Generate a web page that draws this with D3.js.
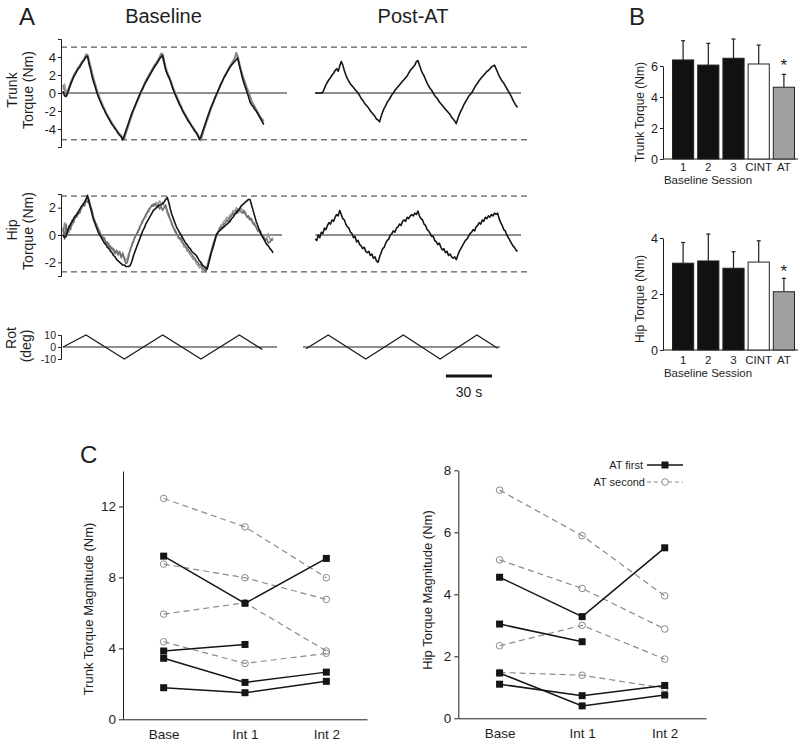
<!DOCTYPE html>
<html><head><meta charset="utf-8">
<script src="https://cdn.jsdelivr.net/npm/d3@7"></script>
<style>body{margin:0;background:#fff}svg{display:block}</style>
</head><body><svg id="c" width="800" height="741"></svg>
<script>
// ---------------- DATA ----------------
// Panel A: torque traces sampled once per second (t = index + start)
const trunkBaseK = [0.2,-0.3,-0.4,0.0,0.5,1.0,1.4,1.8,2.1,2.4,2.7,2.9,3.2,3.5,3.7,4.0,4.1,3.2,2.6,1.8,
1.2,0.7,0.1,-0.4,-0.8,-1.2,-1.6,-1.9,-2.3,-2.6,-2.9,-3.2,-3.5,-3.7,-4.0,-4.2,-4.5,-4.7,-4.9,-5.2,
-4.7,-4.2,-3.7,-3.2,-2.7,-2.2,-1.8,-1.4,-1.0,-0.6,-0.2,0.2,0.5,0.9,1.2,1.5,1.8,2.1,2.4,2.7,
3.0,3.2,3.5,3.8,4.0,4.2,3.4,2.6,2.1,1.8,1.4,0.8,0.3,-0.1,-0.5,-0.9,-1.3,-1.6,-2.0,-2.3,
-2.6,-2.9,-3.2,-3.4,-3.7,-3.9,-4.2,-4.4,-4.7,-5.2,-4.8,-4.3,-3.8,-3.3,-2.8,-2.3,-1.8,-1.4,-1.0,-0.6,
-0.2,0.2,0.6,1.0,1.3,1.7,2.0,2.3,2.6,2.9,3.1,3.3,3.5,3.7,3.9,3.1,2.4,1.7,1.1,0.6,
0.1,-0.4,-1.0,-1.3,-1.5,-1.8,-2.0,-2.3,-2.6,-2.9,-3.2,-3.5];
const trunkBaseG1 = [0.9,0.3,-0.2,0.2,0.7,1.2,1.6,2.0,2.3,2.6,2.9,3.1,3.4,3.6,3.9,4.3,4.2,3.5,2.9,2.1,
1.5,0.9,0.3,-0.2,-0.7,-1.1,-1.5,-1.8,-2.2,-2.5,-2.8,-3.1,-3.4,-3.6,-3.9,-4.1,-4.4,-4.6,-4.8,-5.0,
-5.1,-4.5,-4.0,-3.4,-2.9,-2.4,-1.9,-1.5,-1.0,-0.6,-0.2,0.2,0.6,1.0,1.4,1.7,2.0,2.3,2.6,2.9,
3.2,3.4,3.7,4.0,4.4,3.9,3.2,2.6,2.1,1.7,1.3,0.9,0.4,0.0,-0.4,-0.8,-1.2,-1.5,-1.9,-2.2,
-2.5,-2.8,-3.1,-3.4,-3.7,-4.0,-4.3,-4.5,-4.8,-5.0,-5.2,-4.6,-4.0,-3.5,-3.0,-2.5,-2.0,-1.5,-1.1,-0.6,
-0.2,0.2,0.6,1.0,1.4,1.7,2.0,2.4,2.7,3.0,3.3,3.6,3.9,4.5,4.1,3.4,2.7,2.1,1.6,1.1,
0.6,0.2,-0.3,-0.8,-1.2,-1.5,-1.8,-2.1,-2.4,-2.7,-2.9,-3.1];
const trunkBaseG2 = [0.4,1.0,0.3,-0.2,0.4,0.9,1.4,1.8,2.2,2.5,2.8,3.0,3.3,3.5,3.8,4.1,4.3,3.8,3.0,2.3,
1.7,1.1,0.5,0.0,-0.5,-0.9,-1.3,-1.7,-2.1,-2.4,-2.7,-3.0,-3.3,-3.6,-3.8,-4.1,-4.3,-4.5,-4.7,-4.9,
-5.0,-4.5,-4.0,-3.5,-3.0,-2.5,-2.0,-1.6,-1.2,-0.8,-0.4,0.0,0.4,0.8,1.2,1.5,1.9,2.2,2.5,2.8,
3.1,3.4,3.6,3.9,4.1,4.4,3.7,3.0,2.4,2.0,1.5,1.1,0.6,0.2,-0.2,-0.6,-1.0,-1.4,-1.8,-2.1,
-2.4,-2.7,-3.0,-3.3,-3.6,-3.9,-4.1,-4.4,-4.6,-4.9,-5.3,-4.7,-4.1,-3.6,-3.1,-2.6,-2.1,-1.6,-1.2,-0.7,
-0.3,0.1,0.5,0.9,1.3,1.7,2.0,2.3,2.6,2.9,3.2,3.5,3.8,4.3,3.8,3.1,2.5,1.9,1.4,0.9,
0.4,0.0,-0.5,-0.9,-1.2,-1.5,-1.9,-2.2,-2.5,-2.8,-3.0,-3.2];
const hipBaseK = [0.0,-0.2,-0.1,0.3,0.6,0.8,1.0,1.2,1.4,1.5,1.7,1.9,2.1,2.2,2.4,2.6,2.9,2.4,2.0,1.5,
1.1,0.8,0.5,0.2,0.0,-0.2,-0.4,-0.6,-0.7,-0.9,-1.0,-1.2,-1.3,-1.5,-1.6,-1.8,-1.9,-2.0,-2.1,-2.2,
-2.2,-2.3,-2.3,-2.3,-2.2,-1.9,-1.5,-1.2,-0.9,-0.6,-0.3,0.0,0.3,0.5,0.8,1.0,1.2,1.4,1.6,1.8,
1.9,2.0,2.1,2.2,2.2,2.3,2.4,2.6,2.75,2.4,1.9,1.5,1.2,0.9,0.6,0.4,0.2,0.0,-0.2,-0.4,
-0.6,-0.7,-0.9,-1.0,-1.2,-1.3,-1.4,-1.5,-1.7,-1.9,-2.0,-2.2,-2.3,-2.4,-2.5,-2.1,-1.6,-1.2,-0.8,-0.4,
0.0,0.2,0.3,0.4,0.5,0.6,0.7,0.8,0.9,1.0,1.2,1.3,1.5,1.6,1.8,1.9,2.1,2.2,2.3,2.4,
2.5,2.6,2.6,2.2,1.8,1.4,1.0,0.7,0.4,0.1,-0.1,-0.3,-0.5,-0.7,-0.8,-1.0,-1.1,-1.3];
const hipBaseG1 = [0.5,-0.3,0.8,0.1,0.7,0.4,1.1,0.9,1.4,1.3,1.7,1.6,2.0,2.2,2.1,2.5,2.4,2.6,2.1,1.8,
1.2,1.0,0.6,0.5,0.1,0.0,-0.3,-0.2,-0.6,-0.5,-0.9,-0.8,-1.1,-1.0,-1.3,-1.1,-1.4,-1.2,-1.6,-1.3,
-1.8,-2.1,-2.0,-1.5,-1.0,-0.8,-0.4,-0.2,0.1,0.2,0.6,0.8,1.1,1.2,1.5,1.7,1.9,2.0,2.2,2.1,
2.3,2.1,2.2,1.9,2.1,1.8,2.0,2.2,1.8,1.5,1.1,0.9,0.5,0.4,0.1,0.0,-0.3,-0.2,-0.5,-0.7,
-0.8,-1.0,-1.1,-1.3,-1.4,-1.6,-1.7,-1.9,-2.0,-2.2,-2.1,-2.4,-2.5,-2.7,-2.4,-2.0,-1.7,-1.2,-0.9,-0.5,
-0.1,0.2,0.4,0.6,0.5,0.8,0.9,1.1,1.0,1.3,1.4,1.6,1.5,1.8,1.6,1.9,1.7,1.6,1.8,1.5,
1.3,1.4,1.1,1.2,0.9,0.7,0.6,0.3,0.4,0.1,0.0,-0.2,-0.4,-0.3,-0.6,-0.5,-0.3,-0.4];
const hipBaseG2 = [0.2,0.9,-0.1,0.4,0.2,0.9,0.7,1.3,1.2,1.6,1.5,1.8,1.9,2.3,2.2,2.6,2.8,2.3,1.9,1.6,
1.3,0.9,0.8,0.4,0.3,-0.1,-0.1,-0.4,-0.5,-0.7,-0.6,-1.0,-0.9,-1.2,-1.4,-1.2,-1.5,-1.3,-1.7,-1.5,
-1.6,-1.9,-1.7,-1.3,-1.1,-0.6,-0.5,0.0,0.0,0.4,0.4,0.8,0.9,1.3,1.3,1.6,1.7,2.0,2.1,2.3,
2.2,2.4,2.2,2.5,2.3,2.4,2.1,2.0,1.6,1.3,1.2,0.7,0.6,0.2,0.2,-0.2,-0.2,-0.5,-0.6,-0.9,
-0.9,-1.2,-1.2,-1.5,-1.6,-1.8,-1.8,-2.1,-2.2,-2.4,-2.3,-2.6,-2.7,-2.5,-2.2,-1.8,-1.4,-1.0,-0.6,-0.3,
0.1,0.0,0.5,0.7,0.8,1.0,1.1,1.3,1.2,1.5,1.5,1.8,1.7,2.0,1.9,1.7,2.0,1.8,1.6,1.7,
1.4,1.2,1.3,1.0,0.8,0.9,0.5,0.4,0.2,0.3,-0.1,-0.1,-0.4,-0.2,0.1,-0.3,-0.4,-0.2];
const postStart = 6; // first second of the Post-AT torque traces
const trunkPost = [0.0,0.0,0.0,0.0,0.0,0.1,0.5,0.9,1.2,1.5,1.7,2.0,2.2,2.5,2.7,2.4,3.0,3.5,3.1,2.5,
2.0,1.6,1.3,1.0,0.8,0.6,0.4,0.2,0.0,-0.3,-0.6,-0.8,-1.1,-1.3,-1.5,-1.7,-2.0,-2.2,-2.4,-2.6,
-2.9,-3.0,-3.2,-2.6,-2.1,-1.7,-1.4,-1.0,-0.8,-0.5,-0.2,0.0,0.3,0.5,0.7,0.9,1.1,1.3,1.5,1.7,
1.9,2.2,2.5,2.7,2.9,3.1,3.5,3.6,3.1,2.6,2.2,1.9,1.5,1.1,0.8,0.5,0.3,0.0,-0.3,-0.5,
-0.7,-1.0,-1.2,-1.4,-1.6,-1.8,-2.0,-2.2,-2.4,-2.7,-2.9,-3.1,-3.4,-2.9,-2.4,-2.0,-1.7,-1.3,-1.0,-0.7,
-0.4,-0.2,0.0,0.3,0.6,0.9,1.1,1.4,1.6,1.8,2.0,2.2,2.4,2.5,2.7,2.9,3.0,3.1,2.7,2.3,
1.9,1.6,1.3,1.1,0.8,0.5,0.2,-0.1,-0.4,-0.8,-1.1,-1.4,-1.6];
const hipPost = [-0.3,-0.4,0.0,-0.2,0.2,0.1,0.5,0.4,0.7,0.9,0.8,1.1,1.0,1.3,1.5,1.4,1.8,1.5,1.2,1.1,
0.8,0.6,0.5,0.2,0.1,-0.2,-0.1,-0.5,-0.4,-0.7,-0.8,-1.0,-0.9,-1.2,-1.3,-1.2,-1.5,-1.4,-1.7,-1.6,
-1.9,-2.0,-1.6,-1.3,-1.0,-0.9,-0.6,-0.4,-0.3,0.0,0.1,0.3,0.2,0.5,0.6,0.8,0.7,1.0,1.1,1.0,
1.3,1.2,1.4,1.5,1.4,1.6,1.5,1.75,1.4,1.2,1.1,0.8,0.7,0.4,0.3,0.1,-0.1,-0.1,-0.4,-0.5,
-0.7,-0.6,-0.9,-1.1,-1.0,-1.3,-1.2,-1.5,-1.4,-1.6,-1.7,-1.6,-1.8,-1.5,-1.2,-1.0,-0.8,-0.6,-0.4,-0.3,
-0.1,0.1,0.2,0.4,0.3,0.6,0.7,0.9,0.8,1.1,1.0,1.3,1.2,1.4,1.3,1.5,1.4,1.6,1.5,1.6,
1.2,0.9,0.7,0.4,0.3,0.0,-0.2,-0.4,-0.6,-0.8,-0.9,-1.1,-1.2];
// rotation command: [time s, degrees] vertices
const rotBase = [[0,0],[15,10],[40,-10],[65,10],[90,-10],[115,10],[130,-2]];
const rotPost = [[0,-1.5],[14.5,10],[39,-10],[63.5,10],[87.5,-10],[111.5,10],[125,-1]];
const trunkLimits = [5.1,-5.2];
const hipLimits = [2.85,-2.7];
const trunkTicks = [-4,-2,0,2,4];
const hipTicks = [-2,0,2];
const rotTicks = [-10,0,10];
const scaleBarSeconds = 30;

// Panel B
const barCats = ["1","2","3","CINT","AT"];
const trunkMeans = [6.39,6.06,6.5,6.13,4.63];
const trunkSD = [1.24,1.40,1.24,1.22,0.83];
const hipMeans = [3.1,3.18,2.92,3.14,2.08];
const hipSD = [0.74,0.96,0.59,0.76,0.48];
const barFills = ["#111","#111","#111","#fff","#a0a0a0"];
const trunkBarTicks = [0,2,4,6];
const hipBarTicks = [0,2,4];

// Panel C
const sessions = ["Base","Int 1","Int 2"];
const trunkATsecond = [[12.45,10.85,7.98],[8.75,7.98,6.76],[5.93,6.57,3.85],[4.37,3.15,3.72]];
const trunkATfirst = [[9.2,6.54,9.07],[3.85,4.22,null],[3.44,2.08,2.66],[1.78,1.5,2.14]];
const hipATsecond = [[7.36,5.89,3.95],[5.11,4.19,2.88],[2.34,3.0,1.91],[1.48,1.39,0.97]];
const hipATfirst = [[4.55,3.28,5.5],[3.04,2.47,null],[1.46,0.4,0.75],[1.1,0.73,1.06]];
const trunkCTicks = [0,4,8,12];
const hipCTicks = [0,2,4,6,8];

// ---------------- DRAW ----------------
const FONT = "'Liberation Sans', Arial, Helvetica, sans-serif";
const INK = "#1e1e1e";
const svg = d3.select("#c");
svg.append("rect").attr("width",800).attr("height",741).attr("fill","#fff");

function txt(x, y, s, size, anchor, rot) {
  const t = svg.append("text").attr("font-family",FONT).attr("font-size",size)
    .attr("fill",INK).attr("text-anchor",anchor||"start").text(s);
  if (rot) t.attr("transform",`translate(${x},${y}) rotate(${rot})`);
  else t.attr("x",x).attr("y",y);
  return t;
}
function hline(x1,x2,y,color,w,dash){
  const l = svg.append("line").attr("x1",x1).attr("x2",x2).attr("y1",y).attr("y2",y)
    .attr("stroke",color).attr("stroke-width",w);
  if (dash) l.attr("stroke-dasharray",dash);
}
function styleAxis(g, size){
  g.attr("font-family",FONT).attr("font-size",size);
  g.selectAll("text").attr("fill",INK);
  g.selectAll("path,line").attr("stroke",INK);
}
const intFmt = d => String(d);

// ---- Panel A ----
const xBase = d3.scaleLinear().domain([0,140]).range([63,277.6]);
const xPost = d3.scaleLinear().domain([0,140]).range([306,520.6]);
const yTrunk = d3.scaleLinear().domain([-6,6]).range([147,39]);
const yHip = d3.scaleLinear().domain([-3,3]).range([276,194]);
const yRot = d3.scaleLinear().domain([-10,10]).range([359,335]);

txt(19,25,"A",24);
txt(163.5,23,"Baseline",20,"middle");
txt(413,23,"Post-AT",20,"middle");

function axisA(ys, ticks, size){
  const g = svg.append("g").attr("transform","translate(61,0)")
    .call(d3.axisLeft(ys).tickValues(ticks).tickSize(3).tickSizeOuter(3).tickPadding(2).tickFormat(intFmt));
  styleAxis(g,size);
}
function trace(xs, ys, vals, t0, color, w){
  svg.append("path").datum(vals)
    .attr("d", d3.line().x((d,i)=>xs(t0+i)).y(d=>ys(d)))
    .attr("fill","none").attr("stroke",color).attr("stroke-width",w).attr("stroke-linejoin","round");
}
// Trunk
axisA(yTrunk, trunkTicks, 13);
trunkLimits.forEach(v=>hline(61,528,yTrunk(v),"#333",1,"6,4"));
hline(61,287,yTrunk(0),INK,1);
hline(xPost(postStart),521,yTrunk(0),INK,1);
trace(xBase,yTrunk,trunkBaseG2,0,"#a8a8a8",1.6);
trace(xBase,yTrunk,trunkBaseG1,0,"#808080",1.6);
trace(xBase,yTrunk,trunkBaseK,0,"#151515",1.6);
trace(xPost,yTrunk,trunkPost,postStart,"#151515",1.6);
txt(17,90,"Trunk",14,"middle",-90);
txt(33,90,"Torque (Nm)",14,"middle",-90);
// Hip
axisA(yHip, hipTicks, 13);
hipLimits.forEach(v=>hline(61,528,yHip(v),"#333",1,"6,4"));
hline(61,282,yHip(0),INK,1);
hline(xPost(postStart),521,yHip(0),INK,1);
trace(xBase,yHip,hipBaseG2,0,"#9a9a9a",1.5);
trace(xBase,yHip,hipBaseG1,0,"#6e6e6e",1.5);
trace(xBase,yHip,hipBaseK,0,"#151515",1.6);
trace(xPost,yHip,hipPost,postStart,"#151515",1.6);
txt(17,230,"Hip",14,"middle",-90);
txt(33,231,"Torque (Nm)",14,"middle",-90);
// Rotation
axisA(yRot, rotTicks, 10.5);
hline(xBase(0),277,yRot(0),INK,1);
hline(303,500,yRot(0),INK,1);
[[xBase,rotBase],[xPost,rotPost]].forEach(([xs,pts])=>{
  svg.append("path").datum(pts).attr("d",d3.line().x(d=>xs(d[0])).y(d=>yRot(d[1])))
    .attr("fill","none").attr("stroke",INK).attr("stroke-width",1.3);
});
txt(16,338,"Rot",14,"middle",-90);
txt(31,346,"(deg)",14,"middle",-90);
// scale bar
const sb0 = 91.3;
svg.append("line").attr("x1",xPost(sb0)).attr("x2",xPost(sb0+scaleBarSeconds)).attr("y1",376).attr("y2",376)
  .attr("stroke","#111").attr("stroke-width",3);
txt(xPost(sb0+scaleBarSeconds/2),397,scaleBarSeconds+" s",14,"middle");

// ---- Panel B ----
txt(629,25,"B",24);
const xBar = d3.scaleBand().domain(barCats).range([670.5,796.5]).paddingInner(0.16).paddingOuter(0.08);
function barChart(ys, ticks, means, sds, labelY, catY, label, starY){
  const y0 = ys.range()[0];
  const g = svg.append("g").attr("transform","translate(663,0)")
    .call(d3.axisLeft(ys).tickValues(ticks).tickSize(3).tickSizeOuter(0).tickPadding(2).tickFormat(intFmt));
  styleAxis(g,12.5);
  hline(663,798,y0,INK,1);
  barCats.forEach((c,i)=>{
    const x = xBar(c), w = xBar.bandwidth(), cx = x + w/2;
    const top = ys(means[i]+sds[i]);
    svg.append("line").attr("x1",cx).attr("x2",cx).attr("y1",ys(means[i])).attr("y2",top).attr("stroke",INK).attr("stroke-width",1.2);
    svg.append("line").attr("x1",cx-2).attr("x2",cx+2).attr("y1",top).attr("y2",top).attr("stroke",INK).attr("stroke-width",1.2);
    svg.append("rect").attr("x",x).attr("y",ys(means[i])).attr("width",w).attr("height",y0-ys(means[i]))
      .attr("fill",barFills[i]).attr("stroke","#222").attr("stroke-width",1);
    txt(cx,catY,c,11.5,"middle");
  });
  txt(xBar("AT")+xBar.bandwidth()/2,starY,"*",17,"middle");
  txt(708,catY+13,"Baseline Session",11.5,"middle");
  txt(644,labelY,label,12,"middle",-90);
}
barChart(d3.scaleLinear().domain([0,6]).range([159,66]), trunkBarTicks, trunkMeans, trunkSD, 112, 170.5, "Trunk Torque (Nm)", 71);
barChart(d3.scaleLinear().domain([0,4]).range([350,238]), hipBarTicks, hipMeans, hipSD, 299, 363.5, "Hip Torque (Nm)", 277);

// ---- Panel C ----
txt(80,463,"C",24);
function panelC(xr, ys, ticks, second, first, label, lx, ly){
  const xs = d3.scalePoint().domain(sessions).range(xr).padding(0.5);
  const y0 = ys.range()[0];
  const gy = svg.append("g").attr("transform",`translate(${xr[0]},0)`)
    .call(d3.axisLeft(ys).tickValues(ticks).tickSize(4).tickSizeOuter(0).tickPadding(3).tickFormat(intFmt));
  styleAxis(gy,13.5);
  const gx = svg.append("g").attr("transform",`translate(0,${y0})`)
    .call(d3.axisBottom(xs).tickSize(0).tickSizeOuter(0).tickPadding(10));
  styleAxis(gx,13.5);
  txt(lx,ly,label,13,"middle",-90);
  const line = d3.line().x(d=>xs(d[0])).y(d=>ys(d[1]));
  const pts = arr => arr.map((v,i)=>[sessions[i],v]).filter(d=>d[1]!=null);
  second.forEach(s=>{
    const p = pts(s);
    svg.append("path").attr("d",line(p)).attr("fill","none").attr("stroke","#8a8a8a").attr("stroke-width",1.2).attr("stroke-dasharray","6,4");
    p.forEach(d=>svg.append("circle").attr("cx",xs(d[0])).attr("cy",ys(d[1])).attr("r",3.3)
      .attr("fill","none").attr("stroke","#8a8a8a").attr("stroke-width",1));
  });
  first.forEach(s=>{
    const p = pts(s);
    svg.append("path").attr("d",line(p)).attr("fill","none").attr("stroke","#151515").attr("stroke-width",1.5);
    p.forEach(d=>svg.append("rect").attr("x",xs(d[0])-3.5).attr("y",ys(d[1])-3.5).attr("width",7).attr("height",7).attr("fill","#151515"));
  });
}
panelC([123,367], d3.scaleLinear().domain([0,14]).range([719.3,471]), trunkCTicks, trunkATsecond, trunkATfirst,
  "Trunk Torque Magnitude (Nm)", 93, 609);
panelC([458.3,706], d3.scaleLinear().domain([0,8]).range([718.3,470.3]), hipCTicks, hipATsecond, hipATfirst,
  "Hip Torque Magnitude (Nm)", 432, 590);

// legend
txt(643,469,"AT first",11,"end");
hline(647,683,465,"#151515",1.5);
svg.append("rect").attr("x",661.5).attr("y",461.5).attr("width",7).attr("height",7).attr("fill","#151515");
txt(645,486,"AT second",11,"end");
hline(647,683,482,"#8a8a8a",1.2,"4,3");
svg.append("circle").attr("cx",665).attr("cy",482).attr("r",3.3).attr("fill","#fff").attr("stroke","#8a8a8a");
</script></body></html>
